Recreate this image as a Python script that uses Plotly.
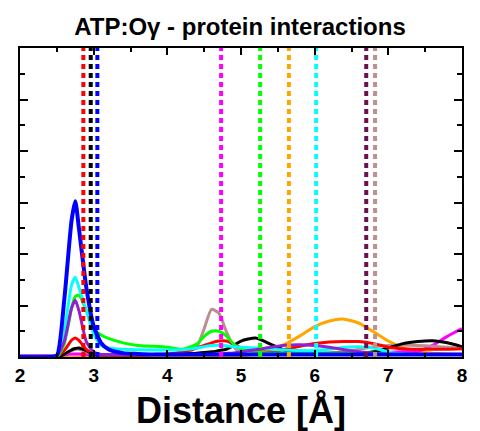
import plotly.graph_objects as go

# Shared distance grid (Å)
x_grid = [2.0, 2.4, 2.5, 2.6, 2.7, 2.75, 2.8, 2.9, 3.0, 3.1, 3.2, 3.4, 3.6, 3.8, 4.0,
          4.2, 4.4, 4.5, 4.6, 4.7, 4.8, 4.9, 5.0, 5.2, 5.4, 5.6, 5.8, 6.0, 6.2, 6.4,
          6.6, 6.8, 7.0, 7.2, 7.4, 7.6, 7.8, 8.0]

orange_y = [0.0, 0.0, 0.0, 0.0, 0.0, 0.0, 0.0, 0.0, 0.0, 0.0, 0.0, 0.0, 0.0, 0.0, 0.0,
            0.0, 0.0, 0.0, 0.0, 0.0, 0.02, 0.03, 0.05, 0.12, 0.28, 0.5, 0.82, 1.18, 1.4, 1.47,
            1.32, 0.98, 0.62, 0.36, 0.2, 0.15, 0.12, 0.1]
magenta_y = [0.0, 0.0, 0.02, 0.08, 0.12, 0.12, 0.12, 0.1, 0.1, 0.1, 0.1, 0.1, 0.1, 0.1, 0.1,
             0.1, 0.1, 0.1, 0.1, 0.1, 0.1, 0.1, 0.1, 0.1, 0.1, 0.1, 0.1, 0.1, 0.1, 0.1,
             0.12, 0.15, 0.18, 0.2, 0.22, 0.45, 0.8, 1.1]
rosybrown_y = [0.0, 0.0, 0.02, 0.1, 0.25, 0.3, 0.3, 0.2, 0.1, 0.05, 0.05, 0.05, 0.05, 0.05, 0.05,
               0.08, 0.4, 1.1, 1.85, 1.7, 1.0, 0.4, 0.15, 0.1, 0.1, 0.1, 0.1, 0.1, 0.15, 0.2,
               0.3, 0.4, 0.45, 0.47, 0.45, 0.42, 0.38, 0.35]
black_y = [0.0, 0.0, 0.02, 0.1, 0.28, 0.33, 0.35, 0.25, 0.12, 0.08, 0.08, 0.08, 0.08, 0.1, 0.1,
           0.12, 0.15, 0.18, 0.2, 0.25, 0.3, 0.45, 0.62, 0.74, 0.5, 0.25, 0.18, 0.15, 0.15, 0.15,
           0.15, 0.2, 0.35, 0.52, 0.6, 0.63, 0.55, 0.4]
red_y = [0.0, 0.0, 0.02, 0.25, 0.65, 0.74, 0.65, 0.3, 0.12, 0.08, 0.08, 0.08, 0.08, 0.1, 0.12,
         0.2, 0.35, 0.45, 0.55, 0.62, 0.62, 0.5, 0.35, 0.22, 0.2, 0.3, 0.42, 0.52, 0.58, 0.6,
         0.6, 0.52, 0.38, 0.32, 0.3, 0.3, 0.3, 0.32]
green_y = [0.0, 0.0, 0.0, 0.5, 1.9, 2.35, 2.4, 1.8, 1.1, 0.85, 0.72, 0.55, 0.45, 0.42, 0.38,
           0.3, 0.5, 0.8, 1.0, 1.0, 0.82, 0.5, 0.3, 0.2, 0.15, 0.15, 0.15, 0.15, 0.15, 0.15,
           0.15, 0.15, 0.12, 0.12, 0.1, 0.1, 0.1, 0.1]
cyan_y = [0.0, 0.0, 0.05, 1.0, 2.8, 3.1, 2.7, 1.8, 0.9, 0.45, 0.35, 0.3, 0.28, 0.27, 0.27,
          0.28, 0.35, 0.4, 0.45, 0.46, 0.44, 0.4, 0.38, 0.35, 0.3, 0.27, 0.25, 0.25, 0.3, 0.38,
          0.4, 0.35, 0.2, 0.12, 0.1, 0.1, 0.1, 0.1]
purple_y = [0.05, 0.05, 0.07, 0.6, 1.9, 2.2, 1.8, 0.6, 0.2, 0.1, 0.1, 0.1, 0.1, 0.1, 0.1,
            0.1, 0.1, 0.1, 0.1, 0.12, 0.14, 0.16, 0.2, 0.28, 0.38, 0.46, 0.48, 0.45, 0.38, 0.28,
            0.2, 0.14, 0.1, 0.1, 0.1, 0.1, 0.1, 0.1]
blue_y = [0.0, 0.0, 0.05, 2.2, 5.3, 6.05, 5.0, 2.7, 1.2, 0.55, 0.3, 0.15, 0.12, 0.1, 0.1,
          0.1, 0.1, 0.1, 0.1, 0.1, 0.1, 0.1, 0.1, 0.1, 0.1, 0.1, 0.1, 0.1, 0.1, 0.1,
          0.1, 0.1, 0.1, 0.1, 0.1, 0.1, 0.1, 0.1]

curve_names = ["orange", "magenta", "rosybrown", "black", "red", "green", "cyan", "purple", "blue"]
curve_values = [orange_y, magenta_y, rosybrown_y, black_y, red_y, green_y, cyan_y, purple_y, blue_y]
curve_colors = ["#FFA500", "#FF00FF", "#BC8F8F", "#000000", "#FF0000", "#00FF00", "#00FFFF", "#9020D0", "#0000FF"]

# Vertical dashed reference lines (Å)
vline_x = [2.86, 2.96, 3.05, 4.73, 5.26, 5.65, 6.02, 6.70, 6.82]
vline_colors = ["#FF0000", "#000000", "#0000FF", "#FF00FF", "#00FF00", "#FFA500", "#00FFFF", "#6B1050", "#C09090"]

x_ticks = [2, 3, 4, 5, 6, 7, 8]
x_tick_labels = ["2", "3", "4", "5", "6", "7", "8"]
y_max = 12

fig = go.Figure()
for name, vals, col in zip(curve_names, curve_values, curve_colors):
    fig.add_trace(go.Scatter(x=x_grid, y=vals, mode="lines", name=name,
                             line=dict(color=col, width=4 if name == "blue" else 3,
                                       shape="spline", smoothing=0.6),
                             showlegend=False))
for xv, col in zip(vline_x, vline_colors):
    fig.add_trace(go.Scatter(x=[xv, xv], y=[0, y_max], mode="lines",
                             line=dict(color=col, width=4, dash="5px,4px"),
                             showlegend=False))

font_family = "Liberation Sans, Arial, sans-serif"
fig.update_layout(
    width=480, height=431,
    margin=dict(l=20, r=18, t=48, b=74, autoexpand=False),
    paper_bgcolor="white", plot_bgcolor="white",
    title=dict(text="<b>ATP:Oγ - protein interactions</b>", x=0.5, xanchor="center",
               y=0.938, yanchor="middle",
               font=dict(family=font_family, size=24, color="black")),
    xaxis=dict(range=[2, 8], tickvals=x_ticks, ticktext=["<b>%s</b>" % t for t in x_tick_labels],
               ticks="inside", ticklen=7, tickwidth=2, tickcolor="black",
               minor=dict(dtick=0.5, ticks="inside", ticklen=4, tickwidth=2, tickcolor="black"),
               showline=True, linewidth=2, linecolor="black", mirror="allticks",
               showgrid=False, zeroline=False, automargin=False,
               tickfont=dict(family=font_family, size=19, color="black")),
    yaxis=dict(range=[0, y_max], dtick=2, tick0=0, showticklabels=False,
               ticks="inside", ticklen=8, tickwidth=2, tickcolor="black",
               minor=dict(dtick=1, ticks="inside", ticklen=5, tickwidth=2, tickcolor="black"),
               showline=True, linewidth=2, linecolor="black", mirror="allticks",
               showgrid=False, zeroline=False, automargin=False),
    annotations=[dict(text="<b>Distance [Å]</b>", xref="paper", yref="paper",
                      x=0.5, y=-0.172, xanchor="center", yanchor="middle", showarrow=False,
                      font=dict(family=font_family, size=36, color="black"))],
)
fig.write_html("out.html", config={"displayModeBar": False},
               post_script="document.body.style.margin='0';document.body.style.overflow='hidden';")
